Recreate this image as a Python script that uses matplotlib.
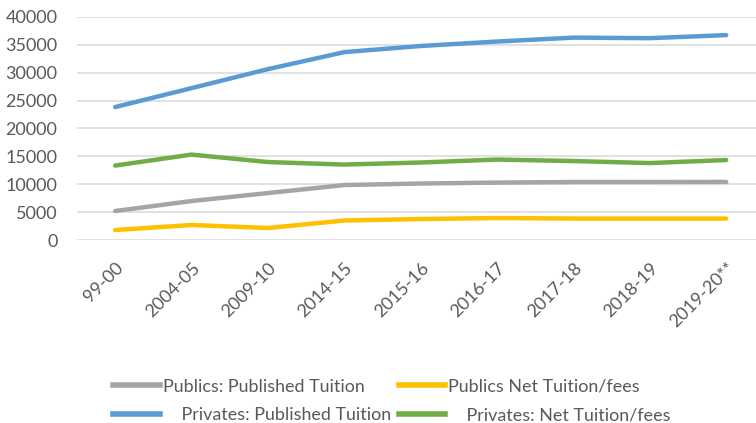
import matplotlib
matplotlib.use("Agg")
import matplotlib.pyplot as plt
from matplotlib.lines import Line2D

years = ["99-00", "2004-05", "2009-10", "2014-15", "2015-16",
         "2016-17", "2017-18", "2018-19", "2019-20**"]

publics_published = [5200, 6990, 8420, 9860, 10130, 10300, 10400, 10400, 10420]
publics_net = [1790, 2690, 2150, 3500, 3760, 3940, 3850, 3850, 3850]
privates_published = [23850, 27240, 30650, 33700, 34800, 35600, 36300, 36200, 36750]
privates_net = [13350, 15320, 13980, 13530, 13900, 14430, 14160, 13800, 14340]

GRAY = "#A5A5A5"
YELLOW = "#FFC000"
BLUE = "#5B9BD5"
GREEN = "#70AD47"
TEXT = "#595959"

plt.rcParams['font.family'] = ['Lato', 'DejaVu Sans']

fig = plt.figure(figsize=(7.56, 4.23), dpi=100)
ax = fig.add_axes([77/756, 1 - 240/423, 1 - 77/756, (240 - 17)/423])

x = list(range(len(years)))
lw = 3.2
ax.plot(x, publics_published, color=GRAY, lw=lw, solid_capstyle='round')
ax.plot(x, publics_net, color=YELLOW, lw=lw, solid_capstyle='round')
ax.plot(x, privates_published, color=BLUE, lw=lw, solid_capstyle='round')
ax.plot(x, privates_net, color=GREEN, lw=lw, solid_capstyle='round')

ax.set_ylim(0, 40000)
ax.set_yticks(range(0, 40001, 5000))
ax.set_xlim(-0.5, (756 - 115) / 76.4)
ax.set_xticks(x)
ax.set_xticklabels(years, rotation=45, ha='right', rotation_mode='anchor')

ax.grid(True, axis='y', color='#D9D9D9', lw=1.1)
ax.set_axisbelow(True)
for s in ax.spines.values():
    s.set_visible(False)
ax.tick_params(axis='both', length=0, labelsize=13, colors=TEXT)
ax.tick_params(axis='y', pad=14)
ax.tick_params(axis='x', pad=14)

handles = [
    Line2D([], [], color=GRAY, lw=4),
    Line2D([], [], color=BLUE, lw=4),
    Line2D([], [], color=YELLOW, lw=4),
    Line2D([], [], color=GREEN, lw=4),
]
labels = [
    "Publics: Published Tuition",
    "    Privates: Published Tuition",
    "Publics Net Tuition/fees",
    "    Privates: Net Tuition/fees",
]
leg = fig.legend(handles, labels, ncol=2, loc='center',
                 bbox_to_anchor=(392/756, 1 - 401/423), frameon=False,
                 fontsize=12.9, handlelength=2.6, handletextpad=0.15,
                 columnspacing=0.45, labelspacing=0.7, borderpad=0)
for t in leg.get_texts():
    t.set_color(TEXT)

fig.savefig("out.png", dpi=100)
